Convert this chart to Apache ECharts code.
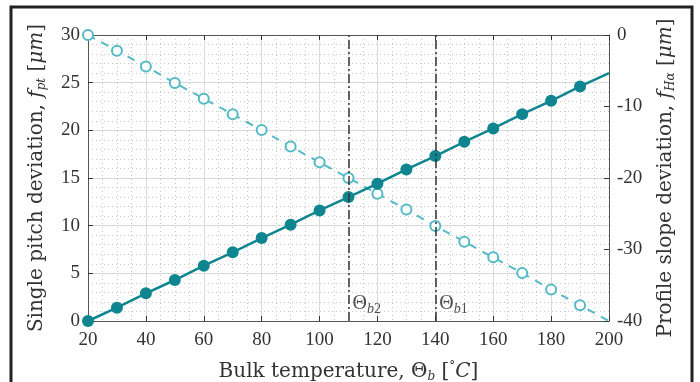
<!DOCTYPE html>
<html>
<head>
<meta charset="utf-8">
<script src="https://cdn.jsdelivr.net/npm/echarts@6/dist/echarts.min.js"></script>
<style>
  html, body { margin: 0; padding: 0; background: #fff; }
  #chart { width: 700px; height: 382px; }
</style>
</head>
<body>
<div id="chart"></div>
<script>
// Bulk temperature samples [°C]
const temperature = [20, 30, 40, 50, 60, 70, 80, 90, 100, 110, 120, 130, 140, 150, 160, 170, 180, 190, 200];
// Single pitch deviation f_pt [μm] (left axis)
const pitchDeviation = [0, 1.4, 2.9, 4.3, 5.8, 7.2, 8.7, 10.1, 11.6, 13.0, 14.4, 15.9, 17.3, 18.8, 20.2, 21.7, 23.1, 24.6, 26.0];
// Profile slope deviation f_Hα [μm] (right axis)
const slopeDeviation = [0, -2.2, -4.4, -6.7, -8.9, -11.1, -13.3, -15.6, -17.8, -20.0, -22.2, -24.4, -26.7, -28.9, -31.1, -33.3, -35.6, -37.8, -40.0];
// Characteristic bulk temperatures
const markerTemps = [110, 140];
const markerNames = ['b2', 'b1'];
// Tick settings
const xTicks = { min: 20, max: 200, step: 20 };
const leftTicks = { min: 0, max: 30, step: 5 };
const rightTicks = { min: -40, max: 0, step: 10 };

const FONT = '"Liberation Serif", "DejaVu Serif", serif';
const NAME_FONT = '"DejaVu Serif", "Liberation Serif", serif';
const DARK = '#0f868f';
const LIGHT = '#55bac5';

// points without marker at the last sample
const withMarkers = (xs, ys) => xs.map((x, i) => (i === xs.length - 1
  ? { value: [x, ys[i]], symbol: 'none' }
  : [x, ys[i]]));

const chart = echarts.init(document.getElementById('chart'), null, { renderer: 'canvas' });

const richBase = {
  n: { fontFamily: NAME_FONT, fontSize: 20, color: '#333' },
  i: { fontFamily: NAME_FONT, fontSize: 20, fontStyle: 'italic', color: '#333' },
  s: { fontFamily: NAME_FONT, fontSize: 12, fontStyle: 'italic', color: '#333', verticalAlign: 'bottom', padding: [10, 0, 0, 0] },
  sup: { fontFamily: NAME_FONT, fontSize: 12, color: '#333', verticalAlign: 'top', padding: [0, 0, 8, 0] }
};

const axisCommon = {
  axisLine: { show: true, lineStyle: { color: '#555', width: 1 } },
  axisTick: { inside: true, length: 5, lineStyle: { color: '#333' } },
  axisLabel: { fontFamily: FONT, fontSize: 19, color: '#333' }
};

chart.setOption({
  backgroundColor: '#fff',
  animation: false,
  graphic: [{
    type: 'rect',
    shape: { x: 11, y: 7, width: 681, height: 420 },
    style: { fill: 'none', stroke: '#222', lineWidth: 3 },
    silent: true
  }],
  grid: { left: 88, right: 91, top: 35, bottom: 61, containLabel: false, outerBoundsMode: 'none' },
  xAxis: [{
    type: 'value',
    min: xTicks.min, max: xTicks.max, interval: xTicks.step,
    position: 'bottom',
    ...axisCommon,
    axisLabel: { ...axisCommon.axisLabel, margin: 10 },
    splitLine: { show: true, lineStyle: { color: '#d9d9d9', width: 1 } },
    minorTick: { show: false, splitNumber: 4 },
    minorSplitLine: { show: true, lineStyle: { color: '#c8c8c8', type: [1, 3], width: 1 } },
    name: '{n|Bulk temperature, Θ}{s|b}{n| [}{sup|°}{i|C}{n|]}',
    nameLocation: 'middle',
    nameGap: 40,
    nameTextStyle: { rich: richBase }
  }, {
    type: 'value',
    min: xTicks.min, max: xTicks.max, interval: xTicks.step,
    position: 'top',
    ...axisCommon,
    axisLabel: { show: false },
    splitLine: { show: false }
  }],
  yAxis: [{
    type: 'value',
    min: leftTicks.min, max: leftTicks.max, interval: leftTicks.step,
    position: 'left',
    ...axisCommon,
    axisLabel: { ...axisCommon.axisLabel, margin: 8 },
    splitLine: { show: true, lineStyle: { color: '#d9d9d9', width: 1 } },
    minorTick: { show: false, splitNumber: 5 },
    minorSplitLine: { show: true, lineStyle: { color: '#c8c8c8', type: [1, 3], width: 1 } },
    name: '{n|Single pitch deviation, }{i|f}{s|pt}{n| [}{i|μm}{n|]}',
    nameLocation: 'middle',
    nameGap: 40,
    nameTextStyle: { rich: richBase }
  }, {
    type: 'value',
    min: rightTicks.min, max: rightTicks.max, interval: rightTicks.step,
    position: 'right',
    ...axisCommon,
    axisLabel: { ...axisCommon.axisLabel, margin: 8 },
    splitLine: { show: false },
    name: '{n|Profile slope deviation, }{i|f}{s|Hα}{n| [}{i|μm}{n|]}',
    nameLocation: 'middle',
    nameGap: 46,
    nameRotate: 90,
    nameTextStyle: { rich: richBase }
  }],
  series: [{
    name: 'f_pt',
    type: 'line',
    xAxisIndex: 0, yAxisIndex: 0,
    data: withMarkers(temperature, pitchDeviation),
    symbol: 'circle',
    symbolSize: 12,
    showAllSymbol: true,
    lineStyle: { color: DARK, width: 2.5 },
    itemStyle: { color: DARK, borderWidth: 0 },
    z: 4
  }, {
    name: 'f_Ha',
    type: 'line',
    xAxisIndex: 0, yAxisIndex: 1,
    data: withMarkers(temperature, slopeDeviation),
    symbol: 'circle',
    symbolSize: 10,
    showAllSymbol: true,
    lineStyle: { color: LIGHT, width: 2, type: [8, 7] },
    itemStyle: { color: '#fff', borderColor: LIGHT, borderWidth: 2 },
    z: 3,
    markLine: {
      silent: true,
      symbol: 'none',
      label: { show: false },
      lineStyle: { color: '#333', width: 1.5, type: [9, 3, 2, 3] },
      data: markerTemps.map(t => ({ xAxis: t }))
    }
  }, {
    name: 'labels',
    type: 'scatter',
    xAxisIndex: 0, yAxisIndex: 0,
    symbolSize: 0,
    data: markerTemps.map((t, i) => ({ value: [t, 1.8], name: markerNames[i] })),
    label: {
      show: true,
      position: 'right',
      distance: 4,
      formatter: p => '{n|Θ}{s|' + p.name.charAt(0) + '}{m|' + p.name.slice(1) + '}',
      rich: {
        n: { fontFamily: FONT, fontSize: 20, color: '#222' },
        s: { fontFamily: FONT, fontSize: 14, fontStyle: 'italic', color: '#222', verticalAlign: 'bottom', padding: [10, 0, 0, 0] },
        m: { fontFamily: FONT, fontSize: 14, color: '#222', verticalAlign: 'bottom', padding: [10, 0, 0, 0] }
      }
    },
    z: 5
  }]
});
</script>
</body>
</html>
